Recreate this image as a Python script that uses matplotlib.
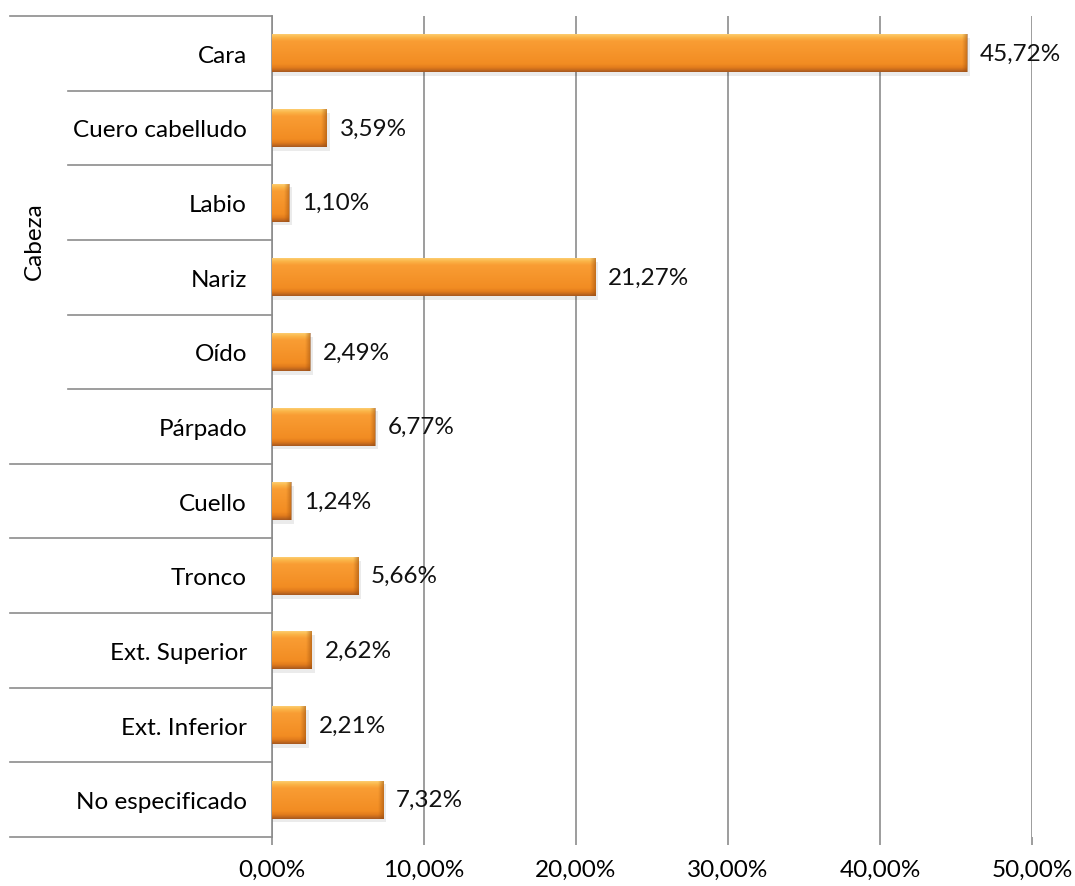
import matplotlib
matplotlib.use("Agg")
import matplotlib.pyplot as plt
import matplotlib.transforms as mtransforms
from matplotlib.colors import LinearSegmentedColormap
import numpy as np

# Porcentajes por localización anatómica (de arriba abajo)
categorias = ["Cara", "Cuero cabelludo", "Labio", "Nariz", "Oído", "Párpado",
              "Cuello", "Tronco", "Ext. Superior", "Ext. Inferior", "No especificado"]
porcentajes = [45.72, 3.59, 1.10, 21.27, 2.49, 6.77, 1.24, 5.66, 2.62, 2.21, 7.32]
grupo = "Cabeza"
n_grupo = 6   # las seis primeras categorías pertenecen a "Cabeza"
xticks = [0, 10, 20, 30, 40, 50]

plt.rcParams["font.family"] = ["Lato", "DejaVu Sans"]
GRID = "#8c8c8c"
FS = 17.5

fig = plt.figure(figsize=(10.75, 8.87), dpi=100)
ax = fig.add_axes([0.253, 0.0552, 0.707, 0.9256])

y = np.arange(len(categorias))
bars = ax.barh(y, porcentajes, height=0.51, color="#f7931e", zorder=3)

# relleno con degradado vertical (efecto biselado)
cmap = LinearSegmentedColormap.from_list(
    "bisel", [(0.0, "#fdd27a"), (0.1, "#fbb548"), (0.2, "#f99d34"),
              (0.8, "#f28c22"), (0.9, "#e07a1c"), (1.0, "#a85a20")])
grad = np.linspace(0, 1, 64).reshape(-1, 1)
cmap_h = LinearSegmentedColormap.from_list(
    "borde", [(0.0, (0.6, 0.3, 0.05, 0.0)), (1.0, (0.6, 0.3, 0.05, 0.55))])
for b in bars:
    x0, y0 = b.get_x(), b.get_y()
    w, h = b.get_width(), b.get_height()
    # sombra suave bajo la barra
    ax.barh(y0 + h / 2 + 0.05, w + 0.2, height=h, left=x0,
            color="#000000", alpha=0.08, zorder=2, linewidth=0)
    im = ax.imshow(grad, cmap=cmap, aspect="auto", zorder=4,
                   extent=(x0, x0 + w, y0 + h, y0), interpolation="bilinear")
    im.set_clip_path(b)
    # oscurecimiento en el extremo derecho
    bw = min(0.35, w * 0.3)
    im2 = ax.imshow(np.linspace(0, 1, 16).reshape(1, -1), cmap=cmap_h,
                    aspect="auto", zorder=5, extent=(x0 + w - bw, x0 + w, y0 + h, y0),
                    interpolation="bilinear")
    im2.set_clip_path(b)

for yi, v in zip(y, porcentajes):
    ax.text(v + 0.85, yi, f"{v:.2f}%".replace(".", ","), va="center", ha="left",
            fontsize=FS, color="#111111", zorder=6)

ax.set_xlim(0, 50)
ax.set_ylim(len(categorias) - 0.5, -0.5)
ax.set_xticks(xticks)
ax.set_xticklabels([f"{t:.2f}%".replace(".", ",") for t in xticks], fontsize=FS)
ax.set_yticks(y)
ax.set_yticklabels(categorias, fontsize=FS)
ax.tick_params(axis="y", length=0, pad=18)
ax.tick_params(axis="x", length=6, width=1.2, color=GRID, pad=10, direction="out")
ax.xaxis.grid(True, color=GRID, lw=1.2, zorder=0)
for s in ["top", "right", "bottom"]:
    ax.spines[s].set_visible(False)
ax.spines["left"].set_color(GRID)
ax.spines["left"].set_linewidth(1.2)

# separadores del eje de categorías de dos niveles
tr = mtransforms.blended_transform_factory(ax.transAxes, ax.transData)
x_ext, x_int = -0.345, -0.268
bordes = np.arange(len(categorias) + 1) - 0.5
for k, b in enumerate(bordes):
    x_ini = x_int if 0 < k < n_grupo else x_ext
    ax.plot([x_ini, 0], [b, b], color=GRID, lw=1.2, transform=tr, clip_on=False)

ax.text(-0.313, (n_grupo - 1) / 2, grupo, transform=tr, rotation=90,
        ha="center", va="center", fontsize=FS)

fig.savefig("out.png", dpi=100)
